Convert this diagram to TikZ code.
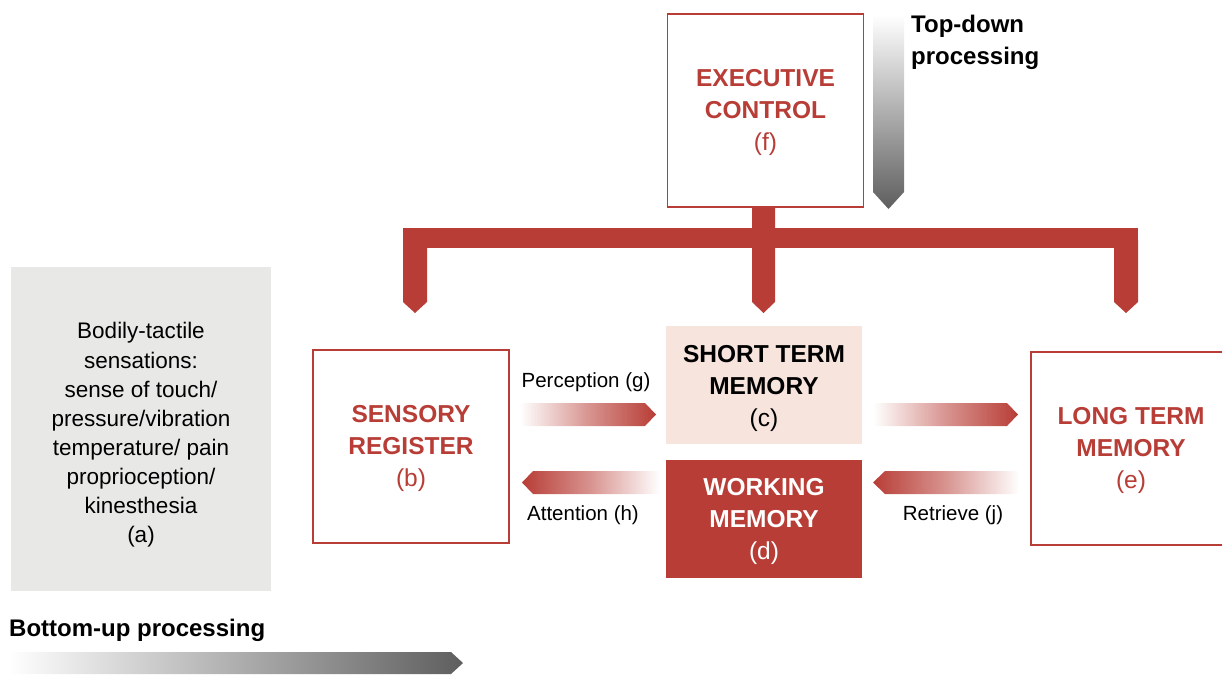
\documentclass[tikz,border=0pt]{standalone}
\usepackage{fontspec}
\setmainfont{Liberation Sans}
\usetikzlibrary{calc}
\definecolor{brick}{HTML}{B83D36}
\definecolor{blush}{HTML}{F7E4DC}
\definecolor{panel}{HTML}{E8E8E6}
\definecolor{darkgrey}{HTML}{5E5E5E}
\begin{document}
\begin{tikzpicture}[x=1pt,y=-1pt,
  box/.style={draw=brick,line width=1.6pt,fill=white,minimum width=196,minimum height=193,inner sep=0},
  memfill/.style={minimum width=196,minimum height=118,inner sep=0},
  title/.style={inner sep=0,align=center,font=\fontsize{24.5}{32}\selectfont},
  lbl/.style={font=\fontsize{20.5}{28}\selectfont,inner sep=0},
  head/.style={font=\fontsize{24}{32}\selectfont\bfseries,inner sep=0,align=left}]
\useasboundingbox (0,0) rectangle (1222,678);
% panel (a)
\node[fill=panel,minimum width=260,minimum height=324,inner sep=0] (a) at (141,429) {};
\node[inner sep=0,align=center,font=\fontsize{22.5}{29.1}\selectfont] (at) at ($(a)+(0,6)$)
  {Bodily-tactile\\sensations:\\sense of touch/\\pressure/vibration\\temperature/ pain\\proprioception/\\kinesthesia\\(a)};
% boxes
\node[box] (b) at (411,446.5) {};
\node[box] (f) at (765.5,110.5) {};
\node[box,minimum width=200] (e) at (1131,448.5) {};
\node[memfill,fill=blush] (c) at (764,385) {};
\node[memfill,fill=brick] (d) at (764,519) {};
\node[title,text=brick] (bt) at ($(b)+(0,2)$) {\textbf{SENSORY}\\\textbf{REGISTER}\\(b)};
\node[title,text=brick] (ft) at ($(f)+(0,2)$) {\textbf{EXECUTIVE}\\\textbf{CONTROL}\\(f)};
\node[title,text=brick] (et) at ($(e)+(0,2)$) {\textbf{LONG TERM}\\\textbf{MEMORY}\\(e)};
\node[title,text=black] (ct) at ($(c)+(0,3)$) {\textbf{SHORT TERM}\\\textbf{MEMORY}\\(c)};
\node[title,text=white] (dt) at ($(d)+(0,2)$) {\textbf{WORKING}\\\textbf{MEMORY}\\(d)};
% bracket from executive control
\fill[brick] (403,228) rectangle (1138,248);
\fill[brick] (752,207) -- (775,207) -- (775,302) -- (763.5,313) -- (752,302) -- cycle;
\fill[brick] (403,240) -- (427,240) -- (427,302) -- (415,313) -- (403,302) -- cycle;
\fill[brick] (1114,240) -- (1138,240) -- (1138,302) -- (1126,313) -- (1114,302) -- cycle;
% gradient arrows
\shade[left color=white,right color=brick,middle color=brick!55] (520,403) -- (645,403) -- (656,414.5) -- (645,426) -- (520,426) -- cycle;
\shade[left color=brick,right color=white,middle color=brick!55] (522,482.5) -- (533,471) -- (660,471) -- (660,494) -- (533,494) -- cycle;
\shade[left color=white,right color=brick,middle color=brick!55] (873,403) -- (1007,403) -- (1018,414.5) -- (1007,426) -- (873,426) -- cycle;
\shade[left color=brick,right color=white,middle color=brick!55] (873,482.5) -- (885,471) -- (1019,471) -- (1019,494) -- (885,494) -- cycle;
\shade[left color=white,right color=darkgrey] (8,652) -- (451,652) -- (463,663) -- (451,674) -- (8,674) -- cycle;
\shade[top color=white,bottom color=darkgrey] (873,15) -- (904,15) -- (904,192) -- (888.5,209) -- (873,192) -- cycle;
% labels
\node[lbl] (g) at (586,382) {Perception (g)};
\node[lbl] (h) at (583,515) {Attention (h)};
\node[lbl] (j) at (953,515) {Retrieve (j)};
\node[head,anchor=west] (td) at (911,42) {Top-down\\processing};
\node[head,anchor=west] (bu) at (9,630) {Bottom-up processing};
\end{tikzpicture}
\end{document}
